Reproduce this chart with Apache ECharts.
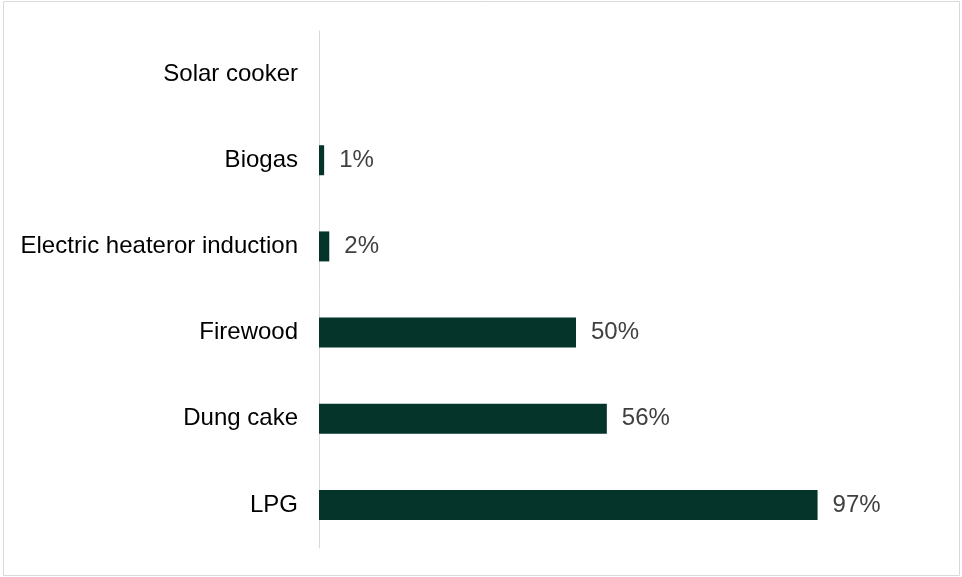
<!DOCTYPE html>
<html>
<head>
<meta charset="utf-8">
<script src="https://cdn.jsdelivr.net/npm/echarts@6/dist/echarts.min.js"></script>
<style>
  html, body { margin: 0; padding: 0; background: #fff; }
  #chart { width: 962px; height: 577px; }
</style>
</head>
<body>
<div id="chart"></div>
<script>
// categories listed bottom to top
const categories = ['LPG', 'Dung cake', 'Firewood', 'Electric heateror induction', 'Biogas', 'Solar cooker']
const shares = [97, 56, 50, 2, 1, null]

const chart = echarts.init(document.getElementById('chart'))

chart.setOption({
  animation: false,
  graphic: [
    {
      type: 'rect',
      shape: { x: 3.5, y: 1.5, width: 956, height: 574 },
      style: { fill: 'none', stroke: '#d9d9d9', lineWidth: 1 },
      silent: true
    }
  ],
  grid: {
    left: 319,
    right: 129,
    top: 31,
    bottom: 29,
    containLabel: false
  },
  xAxis: {
    type: 'value',
    min: 0,
    max: 100,
    show: false
  },
  yAxis: {
    type: 'category',
    data: categories,
    axisLine: { show: true, lineStyle: { color: '#d9d9d9', width: 1 } },
    axisTick: { show: false },
    axisLabel: {
      color: '#000',
      fontFamily: 'Liberation Sans, Arial, sans-serif',
      fontSize: 24,
      margin: 21
    }
  },
  series: [
    {
      type: 'bar',
      data: shares,
      barWidth: 30,
      itemStyle: { color: '#05352a' },
      label: {
        show: true,
        position: 'right',
        distance: 15,
        color: '#404040',
        fontFamily: 'Liberation Sans, Arial, sans-serif',
        fontSize: 24,
        formatter: p => p.value == null ? '' : p.value + '%'
      }
    }
  ]
})
</script>
</body>
</html>
